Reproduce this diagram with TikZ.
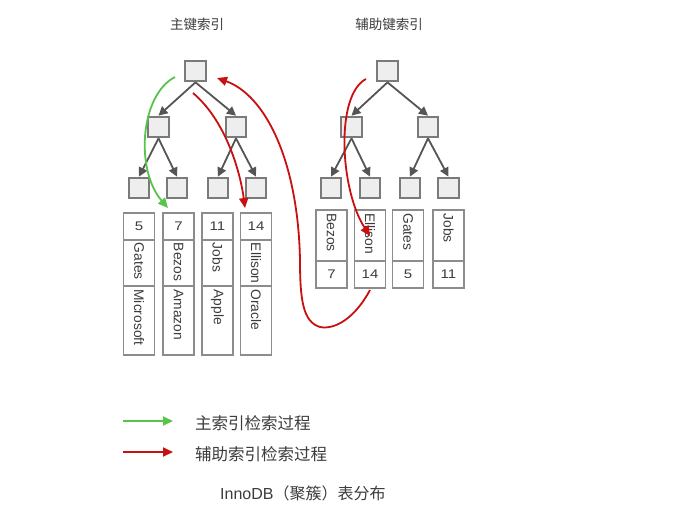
\documentclass[tikz,border=0pt]{standalone}
\usepackage{fontspec}
\setmainfont{Liberation Sans}
\newfontfamily\cjk{Noto Sans CJK SC}
\newfontfamily\numfnt[FakeStretch=1.2]{Liberation Sans}
\usetikzlibrary{arrows.meta}
\definecolor{boxdraw}{RGB}{122,122,122}
\definecolor{boxfill}{RGB}{238,238,238}
\definecolor{celldraw}{RGB}{140,140,140}
\definecolor{edgecol}{RGB}{85,85,85}
\definecolor{txtcol}{RGB}{60,60,60}
\definecolor{pgreen}{RGB}{88,196,76}
\definecolor{pred}{RGB}{200,16,16}
\begin{document}
\begin{tikzpicture}[x=1pt,y=-1pt,
  treebox/.style={draw=boxdraw,fill=boxfill,line width=2.2pt,minimum size=20.5pt,inner sep=0pt},
  edge/.style={draw=edgecol,line width=1.8pt,-{Triangle[length=9pt,width=9pt]}},
  cell/.style={draw=celldraw,fill=white,line width=1.5pt,minimum width=31pt,inner sep=0pt},
  numtxt/.style={text=txtcol,font=\numfnt\fontsize{12.5}{14}\selectfont},
  vtxt/.style={text=txtcol,rotate=-90,anchor=west,inner sep=0pt,font=\fontsize{13.8}{16}\selectfont},
  cjktxt/.style={text=txtcol,inner sep=0pt},
  path/.style={line width=1.8pt,-{Triangle[length=10pt,width=9pt]}},
  gpath/.style={path,draw=pgreen},
  rpath/.style={path,draw=pred}]
\useasboundingbox (0,0) rectangle (692,509);
\fill[white] (0,0) rectangle (692,509);

% titles
\node[cjktxt,font=\cjk\fontsize{13.5}{15}\selectfont] (t1) at (197,24) {主键索引};
\node[cjktxt,font=\cjk\fontsize{13.5}{15}\selectfont] (t2) at (389,24) {辅助键索引};

% primary tree
\node[treebox] (r1) at (195.5,71) {};
\node[treebox] (a1) at (158.5,127) {};
\node[treebox] (b1) at (236,127) {};
\node[treebox] (l11) at (139,188) {};
\node[treebox] (l12) at (177,188) {};
\node[treebox] (l13) at (218,188) {};
\node[treebox] (l14) at (256,188) {};
\draw[edge] (r1.south) -- (a1.north);
\draw[edge] (r1.south) -- (b1.north);
\draw[edge] (a1.south) -- (l11.north);
\draw[edge] (a1.south) -- (l12.north);
\draw[edge] (b1.south) -- (l13.north);
\draw[edge] (b1.south) -- (l14.north);

% secondary tree
\node[treebox] (r2) at (387.5,71) {};
\node[treebox] (a2) at (351.5,127) {};
\node[treebox] (b2) at (428,127) {};
\node[treebox] (l21) at (331,188) {};
\node[treebox] (l22) at (370,188) {};
\node[treebox] (l23) at (410,188) {};
\node[treebox] (l24) at (448.5,188) {};
\draw[edge] (r2.south) -- (a2.north);
\draw[edge] (r2.south) -- (b2.north);
\draw[edge] (a2.south) -- (l21.north);
\draw[edge] (a2.south) -- (l22.north);
\draw[edge] (b2.south) -- (l23.north);
\draw[edge] (b2.south) -- (l24.north);

% primary leaf records
\foreach \x/\n/\a/\b [count=\i] in {139/5/Gates/Microsoft,178.5/7/Bezos/Amazon,217.5/11/Jobs/Apple,256/14/Ellison/Oracle}{
  \node[cell,minimum height=27pt] (pn\i) at (\x,226.5) {};
  \node[numtxt] (pnt\i) at (pn\i.center) {\n};
  \node[cell,minimum height=46pt] (pm\i) at (\x,263) {};
  \node[vtxt] (pmt\i) at ([yshift=-3.5pt]pm\i.north) {\a};
  \node[cell,minimum height=69pt] (pc\i) at (\x,320.5) {};
  \node[vtxt] (pct\i) at ([yshift=-4pt]pc\i.north) {\b};
}

% secondary leaf records
\foreach \x/\a/\n [count=\i] in {331.5/Bezos/7,370/Ellison/14,408/Gates/5,448.5/Jobs/11}{
  \node[cell,minimum height=51pt] (sm\i) at (\x,235.5) {};
  \node[vtxt] (smt\i) at ([yshift=-4pt]sm\i.north) {\a};
  \node[cell,minimum height=27pt] (sn\i) at (\x,274.5) {};
  \node[numtxt] (snt\i) at (sn\i.center) {\n};
}

% search paths
\coordinate (gs) at (175,77);
\coordinate (ge) at (168,208);
\draw[gpath] (gs) .. controls (140,95) and (135,170) .. (ge);

\coordinate (r1s) at (193,93);
\coordinate (r1e) at (245,208);
\draw[rpath] (r1s) .. controls (225,120) and (240,170) .. (r1e);

\coordinate (r2s) at (366,79);
\coordinate (r2e) at (370,236);
\draw[rpath] (r2s) .. controls (335,95) and (340,190) .. (r2e);

\coordinate (r3s) at (370,290);
\coordinate (r3e) at (217,78);
\draw[rpath] (r3s) .. controls (355,318) and (335,330) .. (320,327)
  .. controls (303,322) and (300,300) .. (300,260)
  .. controls (298,160) and (265,95) .. (r3e);

% legend
\coordinate (lg1s) at (123,421);
\coordinate (lg1e) at (173,421);
\draw[gpath] (lg1s) -- (lg1e);
\node[cjktxt,font=\cjk\fontsize{16.5}{18}\selectfont,anchor=west] (lt1) at (195,423) {主索引检索过程};
\coordinate (lg2s) at (123,452);
\coordinate (lg2e) at (173,452);
\draw[rpath] (lg2s) -- (lg2e);
\node[cjktxt,font=\cjk\fontsize{16.5}{18}\selectfont,anchor=west] (lt2) at (195,454) {辅助索引检索过程};

\node[cjktxt,font=\cjk\fontsize{16}{18}\selectfont,anchor=west] (cap) at (220,493) {{\fontspec{Liberation Sans}InnoDB}（聚簇）表分布};
\end{tikzpicture}
\end{document}
